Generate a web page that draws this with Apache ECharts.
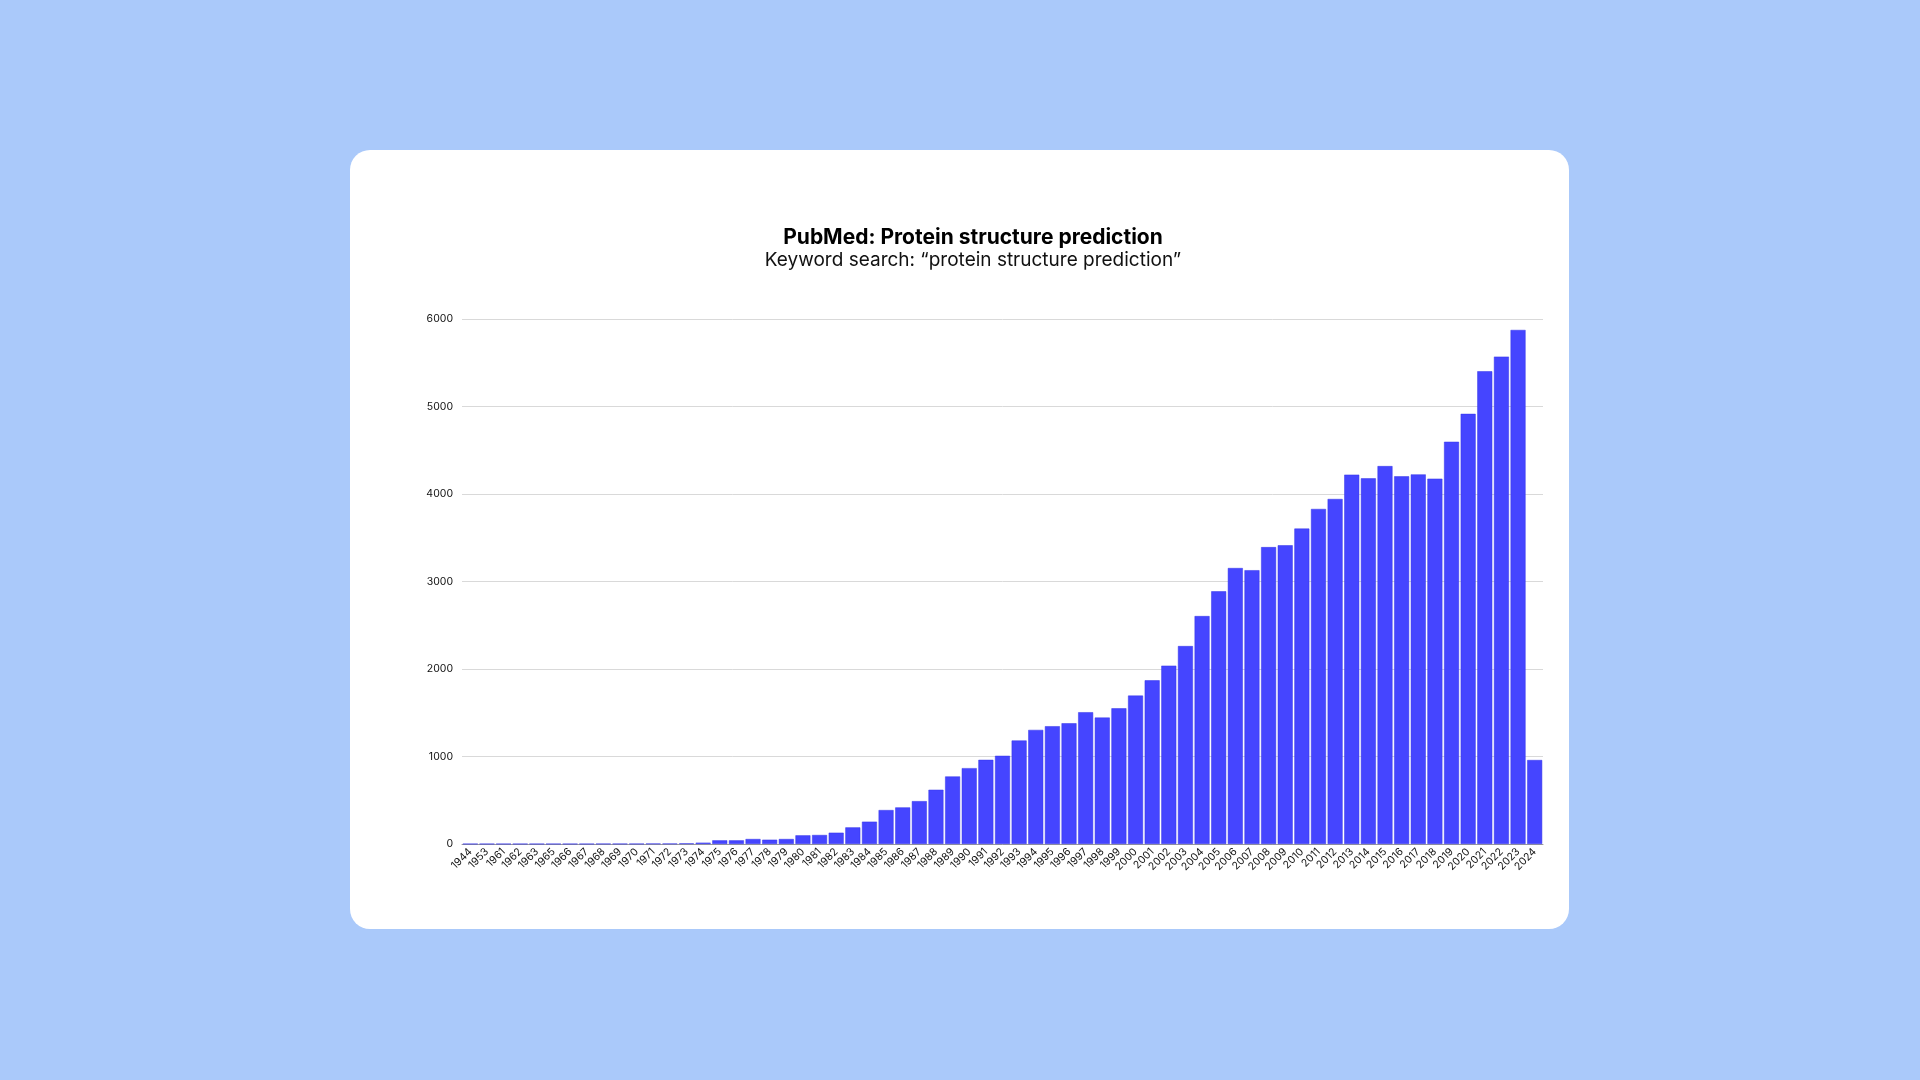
<!DOCTYPE html>
<html>
<head>
<meta charset="utf-8">
<script src="https://cdn.jsdelivr.net/npm/echarts@6/dist/echarts.min.js"></script>
<style>
  html, body { margin: 0; padding: 0; width: 1920px; height: 1080px; background: #AAC9FA; overflow: hidden; }
  #card { position: absolute; left: 350px; top: 150px; width: 1219px; height: 779px; background: #fff; border-radius: 20px; overflow: hidden; }
  #chart { width: 100%; height: 100%; }
</style>
</head>
<body>
<div id="card"><div id="chart"></div></div>
<script>
const years = ['1944', '1953', '1961', '1962', '1963', '1965', '1966', '1967', '1968', '1969',
    '1970', '1971', '1972', '1973', '1974', '1975', '1976', '1977', '1978', '1979',
    '1980', '1981', '1982', '1983', '1984', '1985', '1986', '1987', '1988', '1989',
    '1990', '1991', '1992', '1993', '1994', '1995', '1996', '1997', '1998', '1999',
    '2000', '2001', '2002', '2003', '2004', '2005', '2006', '2007', '2008', '2009',
    '2010', '2011', '2012', '2013', '2014', '2015', '2016', '2017', '2018', '2019',
    '2020', '2021', '2022', '2023', '2024'];

const articles = [1, 1, 1, 1, 1, 1, 1, 1, 2, 2,
    2, 4, 4, 7, 15, 42, 42, 57, 49, 57,
    99, 103, 129, 190, 255, 388, 418, 490, 620, 772,
    867, 962, 1008, 1183, 1304, 1346, 1380, 1506, 1445, 1551,
    1696, 1871, 2038, 2262, 2605, 2888, 3154, 3129, 3393, 3414,
    3605, 3829, 3943, 4221, 4179, 4319, 4202, 4224, 4175, 4597,
    4916, 5403, 5570, 5875, 960];

const titleText = 'PubMed: Protein structure prediction';
const subtitleText = 'Keyword search: \u201cprotein structure prediction\u201d';

const font = 'Inter, "Noto Sans", sans-serif';

const option = {
    animation: false,
    backgroundColor: 'transparent',
    title: {
        text: titleText,
        subtext: subtitleText,
        left: 618,
        top: 72,
        textAlign: 'center',
        itemGap: 3,
        textStyle: { fontFamily: font, fontSize: 21, fontWeight: 'bold', color: '#000' },
        subtextStyle: { fontFamily: font, fontSize: 19, fontWeight: 'normal', color: '#111' }
    },
    grid: { left: 112, right: 26, top: 169, bottom: 85 },
    xAxis: {
        type: 'category',
        data: years,
        axisTick: { show: false },
        axisLine: { lineStyle: { color: '#999', width: 1 } },
        axisLabel: {
            interval: 0,
            rotate: 45,
            margin: 6,
            fontFamily: font,
            fontSize: 10.5,
            color: '#111'
        }
    },
    yAxis: {
        type: 'value',
        min: 0,
        max: 6000,
        interval: 1000,
        axisLine: { show: false },
        axisTick: { show: false },
        splitLine: { lineStyle: { color: '#d9d9d9', width: 1 } },
        axisLabel: {
            margin: 9,
            fontFamily: font,
            fontSize: 10.5,
            color: '#111',
            formatter: function (v) { return String(v); }
        }
    },
    series: [
        {
            type: 'bar',
            data: articles,
            barCategoryGap: '10%',
            itemStyle: { color: '#4545FF', borderColor: '#3535E8', borderWidth: 0.5 }
        }
    ]
};

const myChart = echarts.init(document.getElementById('chart'), null, { renderer: 'canvas' });
myChart.setOption(option);
</script>
</body>
</html>
